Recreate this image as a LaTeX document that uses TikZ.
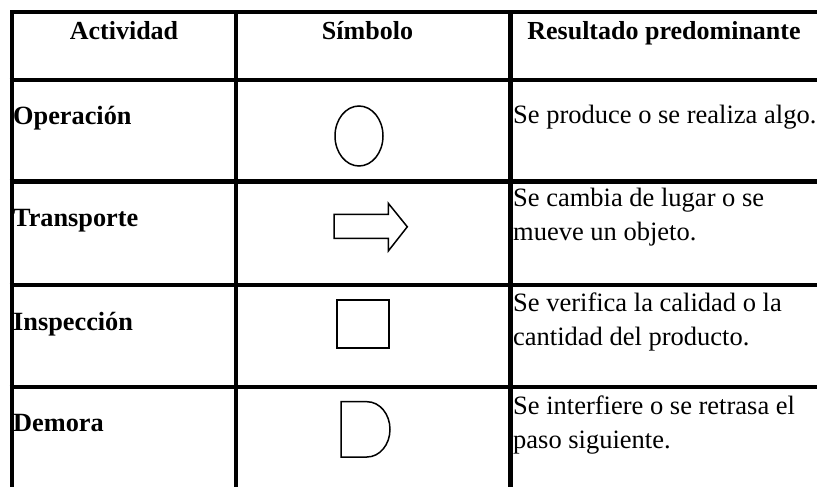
\documentclass[tikz,border=0pt]{standalone}
\usepackage{fontspec}
\setmainfont{Liberation Serif}
\begin{document}
\begin{tikzpicture}[x=1pt,y=-1pt,
  rule/.style={line width=4.7pt,black},
  sym/.style={line width=1.5pt,black,line join=miter},
  txt/.style={inner sep=0pt,font=\fontsize{26.5}{34}\selectfont},
  head/.style={txt,font=\fontsize{26}{34}\selectfont\bfseries,anchor=base},
  act/.style={txt,font=\fontsize{26.3}{34}\selectfont\bfseries,anchor=base west},
  res/.style={txt,anchor=base west,align=left}]
\useasboundingbox (0,0) rectangle (817,487);
\fill[white] (0,0) rectangle (817,487);
% grid
\draw[rule,line join=miter] (12,490) -- (12,12) -- (820,12);
\draw[rule] (236,12) -- (236,490);
\draw[rule] (510.5,12) -- (510.5,490);
\draw[rule] (9.65,80) -- (820,80);
\draw[rule] (9.65,181.5) -- (820,181.5);
\draw[rule] (9.65,285) -- (820,285);
\draw[rule] (9.65,387) -- (820,387);
% header
\node[head] (h1) at (124,40) {Actividad};
\node[head] (h2) at (367.5,40) {Símbolo};
\node[head] (h3) at (664,40) {Resultado predominante};
% activities
\node[act] (a1) at (13,124.3) {Operación};
\node[act] (a2) at (13,226.7) {Transporte};
\node[act] (a3) at (13,330) {Inspección};
\node[act] (a4) at (13,431.7) {Demora};
% results (base anchor = baseline of the last line)
\node[res] (r1) at (513,123.3) {Se produce o se realiza algo.};
\node[res] (r2) at (513,240.3) {Se cambia de lugar o se\\mueve un objeto.};
\node[res] (r3) at (513,345.5) {Se verifica la calidad o la\\cantidad del producto.};
\node[res] (r4) at (513,448.5) {Se interfiere o se retrasa el\\paso siguiente.};
% symbols
\draw[sym] (359,136) ellipse [x radius=24, y radius=30];
\draw[sym] (334,214.3) -- (388.3,214.3) -- (388.3,203.3) -- (407.3,226.8)
  -- (388.3,251) -- (388.3,238.3) -- (334,238.3) -- cycle;
\draw[sym] (337,300) rectangle (389,348);
\draw[sym] (367,401.7) -- (341,401.7) -- (341,457) -- (367,457)
  arc[start angle=90, end angle=-90, x radius=23, y radius=27.65];
\end{tikzpicture}
\end{document}
